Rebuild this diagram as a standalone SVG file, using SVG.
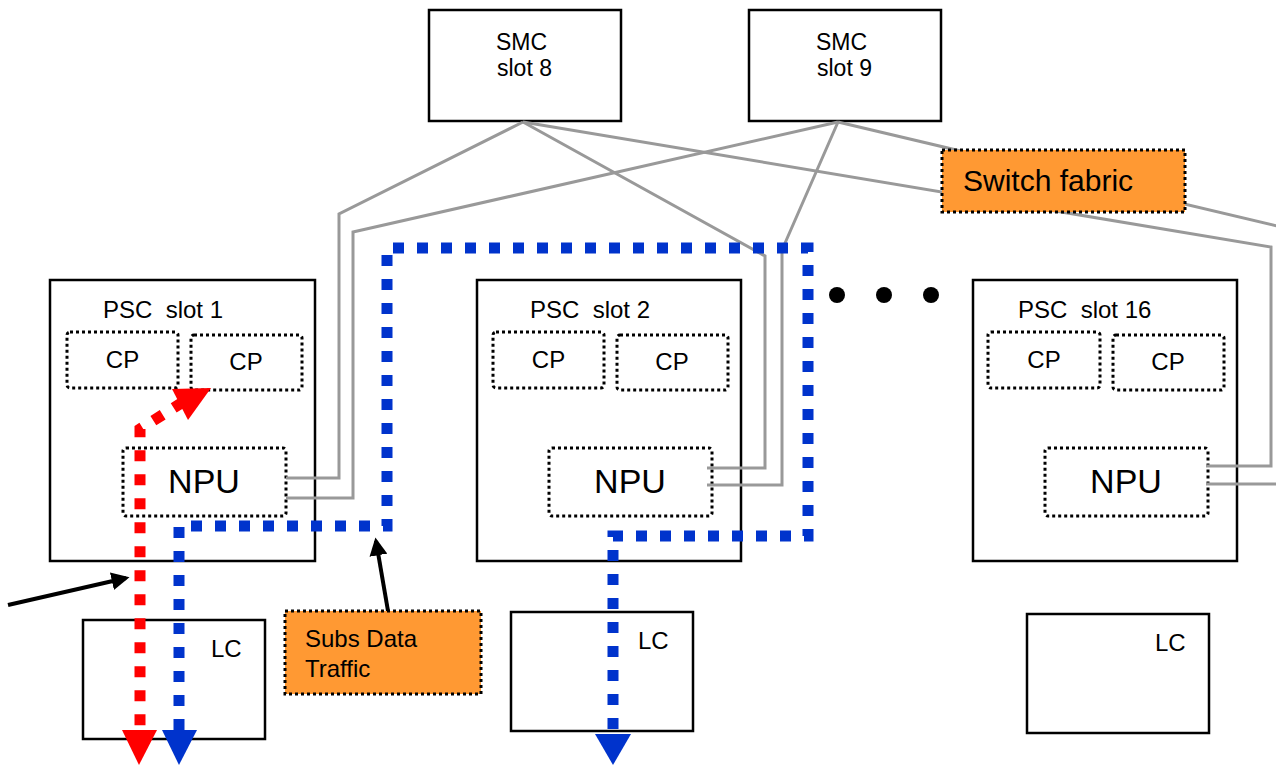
<svg xmlns="http://www.w3.org/2000/svg" width="1276" height="765" viewBox="0 0 1276 765">
<style>
  .box{fill:#fff;stroke:#000;stroke-width:2.5}
  .dot{fill:#fff;stroke:#000;stroke-width:3;stroke-dasharray:3 3}
  .note{fill:#FF9933;stroke:#000;stroke-width:3;stroke-dasharray:3 3}
  .t{font-family:"Liberation Sans",Arial,sans-serif;font-size:24px;fill:#000}
  .smc{font-size:23px}
  .big{font-size:34px}
  .sf{font-size:30px}
  .wire{fill:none;stroke:#999;stroke-width:3}
  .blue{fill:none;stroke:#0033CC;stroke-width:11;stroke-dasharray:11 13}
  .red{fill:none;stroke:#FF0000;stroke-width:11;stroke-dasharray:11 13}
  .bhead{fill:#0033CC}
  .rhead{fill:#FF0000}
  .ptr{fill:none;stroke:#000;stroke-width:4}
</style>
<defs>
  <marker id="ah" viewBox="0 0 10 10" refX="8" refY="5" markerWidth="4.5" markerHeight="4.5" orient="auto" markerUnits="strokeWidth">
    <path d="M0,0 L10,5 L0,10 z" fill="#000"/>
  </marker>
</defs>

<g id="smc8"><rect class="box" x="429" y="10" width="192" height="111"/><text class="t smc" x="496" y="50">SMC</text><text class="t smc" x="497" y="76">slot 8</text></g>
<g id="smc9"><rect class="box" x="749" y="10" width="192" height="111"/><text class="t smc" x="816" y="50">SMC</text><text class="t smc" x="817" y="76">slot 9</text></g>

<g id="psc1">
  <rect class="box" x="50" y="280" width="265" height="281"/>
  <text class="t" x="103" y="318" xml:space="preserve">PSC  slot 1</text>
  <g id="psc1-cp1"><rect class="dot" x="67" y="332" width="111" height="56" rx="3"/><text class="t" x="122.5" y="368" text-anchor="middle">CP</text></g>
  <g id="psc1-cp2"><rect class="dot" x="191" y="335" width="111" height="55" rx="3"/><text class="t" x="246" y="370" text-anchor="middle">CP</text></g>
  <g id="psc1-npu"><rect class="dot" x="123" y="448" width="163" height="68" rx="3"/><text class="t big" x="204" y="493" text-anchor="middle">NPU</text></g>
</g>
<g id="psc2">
  <rect class="box" x="477" y="280" width="264" height="281"/>
  <text class="t" x="530" y="318" xml:space="preserve">PSC  slot 2</text>
  <g id="psc2-cp1"><rect class="dot" x="493" y="332" width="111" height="56" rx="3"/><text class="t" x="548.5" y="368" text-anchor="middle">CP</text></g>
  <g id="psc2-cp2"><rect class="dot" x="617" y="335" width="111" height="55" rx="3"/><text class="t" x="672" y="370" text-anchor="middle">CP</text></g>
  <g id="psc2-npu"><rect class="dot" x="549" y="448" width="163" height="68" rx="3"/><text class="t big" x="630" y="493" text-anchor="middle">NPU</text></g>
</g>
<g id="psc16">
  <rect class="box" x="973" y="280" width="264" height="281"/>
  <text class="t" x="1018" y="318" xml:space="preserve">PSC  slot 16</text>
  <g id="psc16-cp1"><rect class="dot" x="988" y="332" width="112" height="56" rx="3"/><text class="t" x="1044" y="368" text-anchor="middle">CP</text></g>
  <g id="psc16-cp2"><rect class="dot" x="1113" y="335" width="111" height="55" rx="3"/><text class="t" x="1168" y="370" text-anchor="middle">CP</text></g>
  <g id="psc16-npu"><rect class="dot" x="1045" y="448" width="163" height="68" rx="3"/><text class="t big" x="1126" y="493" text-anchor="middle">NPU</text></g>
</g>

<g id="ellipsis"><circle cx="837" cy="295" r="8"/><circle cx="884" cy="295" r="8"/><circle cx="931" cy="295" r="8"/></g>

<g id="lc1"><rect class="box" x="83" y="620" width="182" height="119"/><text class="t" x="211" y="657">LC</text></g>
<g id="lc2"><rect class="box" x="511" y="612" width="182" height="119"/><text class="t" x="638" y="649">LC</text></g>
<g id="lc16"><rect class="box" x="1027" y="614" width="182" height="119"/><text class="t" x="1155" y="651">LC</text></g>

<g id="connectors">
  <path class="wire" d="M523,122 L339,214 L339,478 L286,478"/>
  <path class="wire" d="M523,122 L765,256 L765,468 L707,468"/>
  <path class="wire" d="M523,122 L1271,247 L1271,466 L1206,466"/>
  <path class="wire" d="M838,122 L1290,229"/>
  <path class="wire" d="M838,122 L353,232 L353,498 L286,498"/>
  <path class="wire" d="M838,122 L782,250 L782,485 L707,485"/>
  <path class="wire" d="M1206,484 L1280,484"/>

  <path class="blue" d="M179,730 L179,526 L387,526 L387,248 L808,248 L808,536 L613,536 L613,735"/>
  <polygon class="bhead" points="162,730 197,730 179,765"/>
  <polygon class="bhead" points="595,734 631,734 613,765"/>

  <path class="red" d="M183,402 L140,429 L140,730"/>
  <polygon class="rhead" points="122,730 157,730 139,765"/>
  <polygon class="rhead" points="172,389 211,388 188,420"/>

  <line class="ptr" x1="8" y1="605" x2="126" y2="578" marker-end="url(#ah)"/>
  <line class="ptr" x1="388" y1="611" x2="376" y2="541" marker-end="url(#ah)"/>
</g>

<g id="switch-fabric"><rect class="note" x="942" y="150" width="243" height="62"/><text class="t sf" x="963" y="191">Switch fabric</text></g>
<g id="subs-data-traffic"><rect class="note" x="285" y="611" width="196" height="83"/><text class="t" x="305" y="647">Subs Data</text><text class="t" x="305" y="677">Traffic</text></g>
</svg>
